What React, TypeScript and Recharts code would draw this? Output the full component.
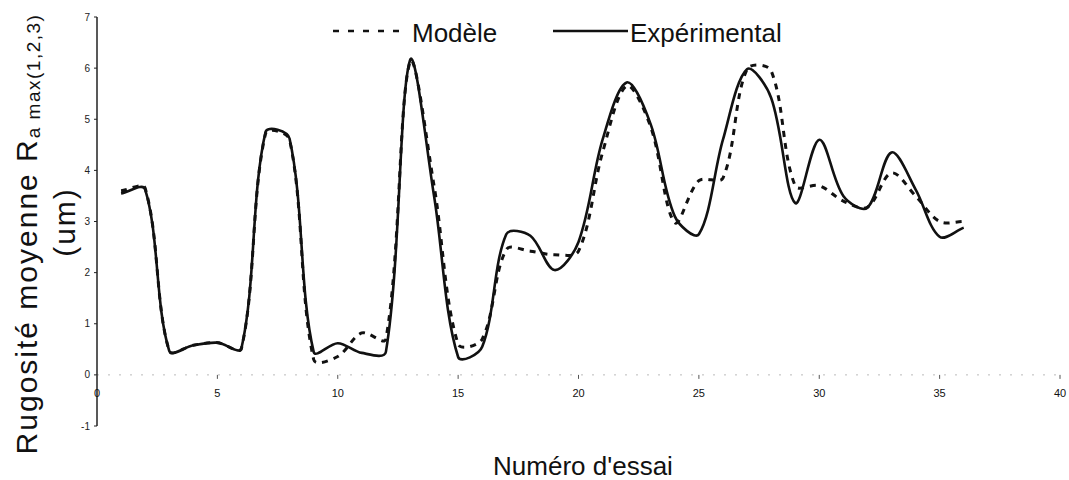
import { LineChart, Line, XAxis, YAxis, ReferenceLine } from 'recharts'

const FONT = '"Liberation Sans", Arial, sans-serif'

// essais 1..36
const essais = [
  1, 2, 3, 4, 5, 6, 7, 8, 9, 10, 11, 12, 13, 14, 15, 16, 17, 18,
  19, 20, 21, 22, 23, 24, 25, 26, 27, 28, 29, 30, 31, 32, 33, 34, 35, 36,
]
const modele = [
  3.6, 3.65, 0.47, 0.58, 0.63, 0.52, 4.72, 4.6, 0.3, 0.36, 0.82, 0.7,
  6.12, 3.7, 0.6, 0.7, 2.45, 2.42, 2.35, 2.42, 4.35, 5.65, 4.85, 2.98,
  3.8, 3.85, 5.98, 5.95, 3.7, 3.7, 3.4, 3.28, 3.95, 3.5, 3.0, 3.0,
]
const experimental = [
  3.55, 3.63, 0.47, 0.58, 0.63, 0.52, 4.75, 4.62, 0.45, 0.62, 0.43, 0.45,
  6.15, 3.5, 0.35, 0.55, 2.75, 2.72, 2.05, 2.6, 4.6, 5.72, 4.9, 3.1,
  2.75, 4.6, 5.98, 5.42, 3.36, 4.6, 3.5, 3.27, 4.35, 3.63, 2.7, 2.88,
]
const xTicks = [0, 5, 10, 15, 20, 25, 30, 35, 40]
const yTicks = [-1, 0, 1, 2, 3, 4, 5, 6, 7]

const data = essais.map((n, i) => ({ essai: n, modele: modele[i], experimental: experimental[i] }))

// plot box
const W = 1069
const H = 480
const PLOT_TOP = 17
const PLOT_BOTTOM = 426
const Y_MIN = -1
const Y_MAX = 7
const ZERO_Y = PLOT_TOP + (Y_MAX / (Y_MAX - Y_MIN)) * (PLOT_BOTTOM - PLOT_TOP)

// Excel-style smoothed line: Bezier control points weighted by chord length
class SmoothCurve {
  ctx: any
  pts: number[][] = []
  constructor(ctx: any) { this.ctx = ctx }
  areaStart() {}
  areaEnd() {}
  lineStart() { this.pts = [] }
  point(x: number, y: number) { this.pts.push([+x, +y]) }
  lineEnd() {
    const p = this.pts
    if (!p.length) return
    const d = (a: number[], b: number[]) => Math.hypot(b[0] - a[0], b[1] - a[1])
    const S = 1 / 3
    this.ctx.moveTo(p[0][0], p[0][1])
    for (let i = 0; i < p.length - 1; i++) {
      const p0 = p[i - 1] ?? p[i]
      const p1 = p[i]
      const p2 = p[i + 1]
      const p3 = p[i + 2] ?? p[i + 1]
      const d01 = d(p0, p1), d12 = d(p1, p2), d23 = d(p2, p3)
      const a = d01 + d12 > 0 ? d12 / (d01 + d12) : 0
      const b = d12 + d23 > 0 ? d12 / (d12 + d23) : 0
      this.ctx.bezierCurveTo(
        p1[0] + (p2[0] - p0[0]) * a * S, p1[1] + (p2[1] - p0[1]) * a * S,
        p2[0] - (p3[0] - p1[0]) * b * S, p2[1] - (p3[1] - p1[1]) * b * S,
        p2[0], p2[1],
      )
    }
  }
}
const smooth = (ctx: any) => new SmoothCurve(ctx)

// x tick labels sit under the zero line, not at the bottom of the plot
function XTick({ x, payload }: any) {
  return (
    <g>
      <line x1={x} x2={x} y1={ZERO_Y} y2={ZERO_Y + 4} stroke="#555" strokeWidth={1} />
      <text x={x} y={ZERO_Y + 22} textAnchor="middle" fontSize={11} fontFamily={FONT} fill="#111">
        {payload.value}
      </text>
    </g>
  )
}

export default function App() {
  return (
    <div style={{ position: 'absolute', left: 0, top: 0, width: W, height: H, background: '#fff' }}>
      <LineChart width={W} height={H} data={data} margin={{ top: PLOT_TOP, right: 9, bottom: 34, left: 67 }}>
        <XAxis
          dataKey="essai"
          type="number"
          domain={[0, 40]}
          ticks={xTicks}
          interval={0}
          axisLine={false}
          tickLine={false}
          height={20}
          tick={<XTick />}
        />
        <YAxis
          type="number"
          domain={[Y_MIN, Y_MAX]}
          ticks={yTicks}
          interval={0}
          width={30}
          axisLine={{ stroke: '#222', strokeWidth: 1.5 }}
          tickLine={{ stroke: '#222' }}
          tickSize={3}
          tickMargin={4}
          tick={{ fontSize: 10, fill: '#222', fontFamily: FONT }}
        />
        <ReferenceLine y={0} stroke="#bbb" strokeDasharray="2 9" strokeWidth={1} />
        <Line
          dataKey="modele"
          type={smooth as any}
          stroke="#111"
          strokeWidth={3}
          strokeDasharray="6 6"
          dot={false}
          activeDot={false}
          isAnimationActive={false}
        />
        <Line
          dataKey="experimental"
          type={smooth as any}
          stroke="#111"
          strokeWidth={2.6}
          dot={false}
          activeDot={false}
          isAnimationActive={false}
        />
      </LineChart>

      {/* titles and legend */}
      <svg width={W} height={H} style={{ position: 'absolute', left: 0, top: 0, pointerEvents: 'none' }}>
        <g fontFamily={FONT} fill="#111">
          <line x1={333} x2={400} y1={31} y2={31} stroke="#111" strokeWidth={2.5} strokeDasharray="6 9" />
          <text x={412} y={42} fontSize={26}>Modèle</text>
          <line x1={553} x2={628} y1={31} y2={31} stroke="#111" strokeWidth={2.6} />
          <text x={630} y={42} fontSize={26}>Expérimental</text>

          <text x={583} y={475} fontSize={26} textAnchor="middle">Numéro d'essai</text>

          <text transform="translate(37,234) rotate(-90)" textAnchor="middle" fontSize={30} letterSpacing={2}>
            Rugosité moyenne R
            <tspan fontSize={19} dy={3} letterSpacing={1.5}>a max(1,2,3)</tspan>
          </text>
          <text transform="translate(75,222) rotate(-90)" textAnchor="middle" fontSize={30} letterSpacing={2}>
            (um)
          </text>
        </g>
      </svg>
    </div>
  )
}
